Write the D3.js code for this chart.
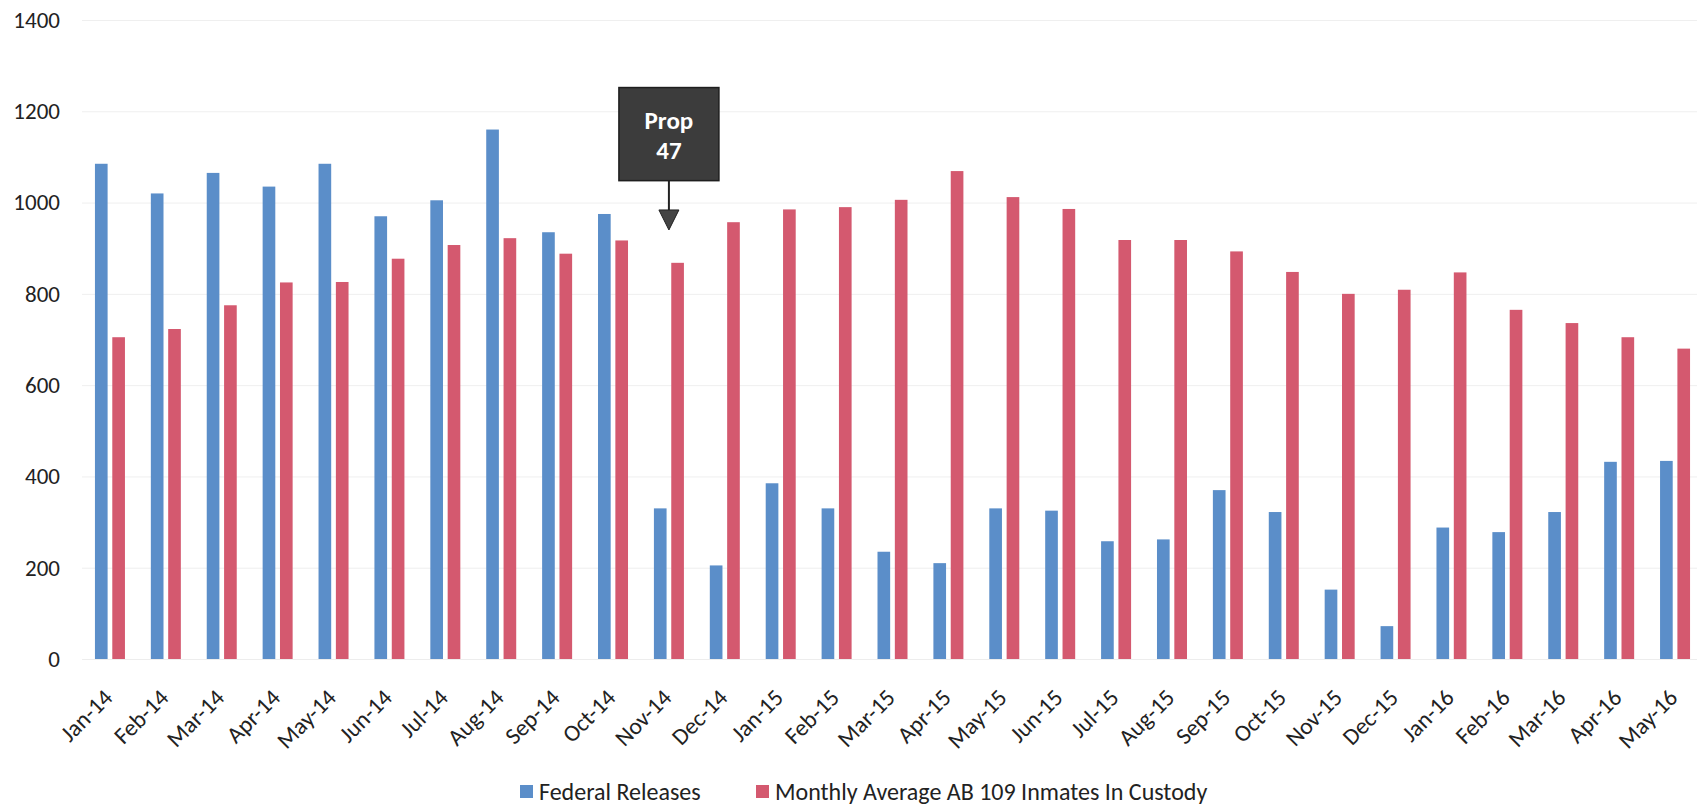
<!DOCTYPE html>
<html>
<head>
<meta charset="utf-8">
<script src="https://cdn.jsdelivr.net/npm/d3@7"></script>
<style>
  body { margin: 0; background: #fff; }
  text { font-family: Carlito, Calibri, Lato, sans-serif; }
</style>
</head>
<body>
<div id="wrapper"></div>
<script>
const months = ["Jan-14","Feb-14","Mar-14","Apr-14","May-14","Jun-14","Jul-14","Aug-14","Sep-14","Oct-14","Nov-14","Dec-14",
                "Jan-15","Feb-15","Mar-15","Apr-15","May-15","Jun-15","Jul-15","Aug-15","Sep-15","Oct-15","Nov-15","Dec-15",
                "Jan-16","Feb-16","Mar-16","Apr-16","May-16"];
const federalReleases = [1085,1020,1065,1035,1085,970,1005,1160,935,975,330,205,
                         385,330,235,210,330,325,258,262,370,322,152,72,
                         288,278,322,432,434];
const inCustody = [705,723,775,825,826,877,907,922,888,917,868,957,
                   985,990,1006,1069,1012,986,918,918,893,848,800,809,
                   847,765,736,705,680];
const seriesNames = ["Federal Releases", "Monthly Average AB 109 Inmates In Custody"];
const yTicks = [0,200,400,600,800,1000,1200,1400];
const annotation = { month: "Nov-14", lines: ["Prop", "47"], top: 1252, bottom: 1048, tip: 940 };

const colors = ["#5b8ec9", "#d4596f"];

var dimension = {
    width: 1697,
    height: 807,
    margin: { top: 20, left: 82, bottom: 148, right: -6 }
};
dimension.boundedWidth = dimension.width - dimension.margin.left - dimension.margin.right;
dimension.boundedHeight = dimension.height - dimension.margin.top - dimension.margin.bottom;

const svg = d3.select("#wrapper").append("svg")
    .attr("width", dimension.width)
    .attr("height", dimension.height);
const bounded = svg.append("g")
    .attr("transform", `translate(${dimension.margin.left},${dimension.margin.top})`);

const xScale = d3.scaleBand()
    .domain(months)
    .range([0, dimension.boundedWidth]);

const bw = xScale.bandwidth();
const xInner = d3.scaleBand()
    .domain([0, 1])
    .range([bw / 2 - 15, bw / 2 + 15])
    .paddingInner(0.27);

const yScale = d3.scaleLinear()
    .domain([0, 1400])
    .range([dimension.boundedHeight, 0]);

// gridlines
bounded.append("g")
    .call(d3.axisLeft(yScale).tickValues(yTicks).tickSize(-dimension.boundedWidth).tickFormat(""))
    .call(g => g.select(".domain").remove())
    .call(g => g.selectAll("line").attr("stroke", "#efefef"));

// y labels
bounded.append("g")
    .call(d3.axisLeft(yScale).tickValues(yTicks).tickSize(0).tickPadding(22).tickFormat(d3.format("d")))
    .call(g => g.select(".domain").remove())
    .call(g => g.selectAll("text").attr("font-size", 23).attr("fill", "#222"));

// bars
const rows = months.map((m, i) => ({ month: m, values: [federalReleases[i], inCustody[i]] }));
const groups = bounded.selectAll(".month")
    .data(rows)
    .join("g")
    .attr("transform", d => `translate(${xScale(d.month)},0)`);
groups.selectAll("rect")
    .data(d => d.values.map((v, k) => ({ k: k, v: v })))
    .join("rect")
    .attr("x", d => xInner(d.k))
    .attr("width", xInner.bandwidth())
    .attr("y", d => yScale(d.v))
    .attr("height", d => yScale(0) - yScale(d.v))
    .attr("fill", d => colors[d.k]);

// x axis
bounded.append("g")
    .attr("transform", `translate(0,${dimension.boundedHeight})`)
    .call(d3.axisBottom(xScale).tickSize(0))
    .call(g => g.select(".domain").attr("stroke", "#ededed"))
    .call(g => g.selectAll("text")
        .attr("font-size", 23.5)
        .attr("fill", "#222")
        .attr("text-anchor", "end")
        .attr("x", 0).attr("y", 0).attr("dy", null)
        .attr("transform", "translate(4,40) rotate(-45)"));

// Prop 47 annotation
const ax = xScale(annotation.month) + bw / 2;
const boxTop = yScale(annotation.top), boxBottom = yScale(annotation.bottom), tipY = yScale(annotation.tip);
const anno = bounded.append("g");
anno.append("rect")
    .attr("x", ax - 50).attr("y", boxTop)
    .attr("width", 100).attr("height", boxBottom - boxTop)
    .attr("fill", "#3c3c3c").attr("stroke", "#1e1e1e").attr("stroke-width", 1.5);
anno.selectAll("text.lbl")
    .data(annotation.lines)
    .join("text")
    .attr("class", "lbl")
    .attr("x", ax)
    .attr("y", (d, i) => boxTop + 41 + i * 30)
    .attr("text-anchor", "middle")
    .attr("font-size", 25)
    .attr("font-weight", "bold")
    .attr("fill", "#fff")
    .text(d => d);
anno.append("line")
    .attr("x1", ax).attr("x2", ax)
    .attr("y1", boxBottom).attr("y2", tipY - 18)
    .attr("stroke", "#222").attr("stroke-width", 2);
anno.append("path")
    .attr("d", `M${ax - 10},${tipY - 20}L${ax + 10},${tipY - 20}L${ax},${tipY}Z`)
    .attr("fill", "#444").attr("stroke", "#222").attr("stroke-width", 1);

// legend
const legendX = [520, 756];
const legend = svg.append("g").attr("transform", "translate(0,792)");
const items = legend.selectAll("g")
    .data(seriesNames)
    .join("g")
    .attr("transform", (d, i) => `translate(${legendX[i]},0)`);
items.append("rect")
    .attr("x", 0).attr("y", -7)
    .attr("width", 13).attr("height", 13)
    .attr("fill", (d, i) => colors[i]);
items.append("text")
    .attr("x", 19).attr("y", 0).attr("dy", "0.35em")
    .attr("font-size", 24)
    .attr("fill", "#222")
    .text(d => d);
</script>
</body>
</html>
